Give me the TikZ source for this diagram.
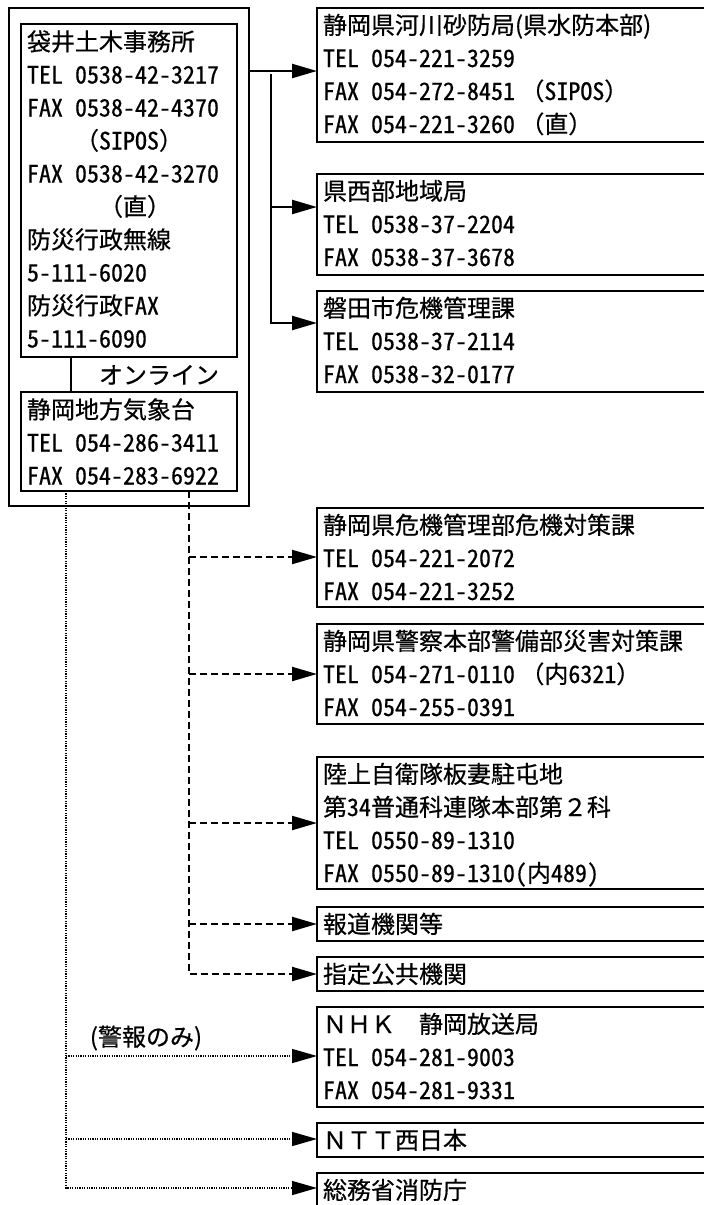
\documentclass[tikz,border=0pt]{standalone}
\usepackage{fontspec}
\newfontfamily\jp{Noto Sans CJK JP}[FakeBold=0.5]
\newfontfamily\jh{Noto Sans CJK JP}[RawFeature=+hwid,FakeBold=0.5]
\newcommand{\hw}[1]{{\jh #1}}
\usetikzlibrary{arrows.meta,calc}
\tikzset{
  box/.style={draw, line width=2.4pt, rectangle, anchor=north west, inner sep=0pt, outer sep=0pt},
  txt/.style={anchor=north west, inner sep=0pt, outer sep=0pt, align=left, font=\jp\fontsize{24pt}{33pt}\selectfont},
  lbl/.style={inner sep=0pt, outer sep=0pt, font=\jp\fontsize{24pt}{28pt}\selectfont},
  tip/.style={-{Triangle[length=25pt,width=14pt]}},
  solidc/.style={line width=2.3pt},
  dashc/.style={line width=2.1pt, dash pattern=on 7pt off 4pt},
  dotc/.style={line width=1.4pt, dash pattern=on 1.2pt off 1.2pt},
}
\begin{document}
\begin{tikzpicture}[x=1pt,y=-1pt]
\useasboundingbox (0,0) rectangle (704,1205);
\fill[white] (0,0) rectangle (704,1205);
\clip (0,0) rectangle (704,1205);

% left group
\node[box, minimum width=240pt, minimum height=498pt] (outer) at (9,8) {};
\node[box, minimum width=216pt, minimum height=333pt] (b1) at (21,24) {};
\node[box, minimum width=216pt, minimum height=99pt] (b2) at (21,392) {};
\node[txt] (t1) at (27,24) {\rule{0pt}{26.5pt}袋井土木事務所\\
\hw{TEL 0538-42-3217}\\
\hw{FAX 0538-42-4370}\\
　　（\hw{SIPOS}）\\
\hw{FAX 0538-42-3270}\\
　　　（直）\\
防災行政無線\\
\hw{5-111-6020}\\
防災行政\hw{FAX}\\
\hw{5-111-6090}};
\node[txt] (t2) at (27,392) {\rule{0pt}{26.5pt}静岡地方気象台\\
\hw{TEL 054-286-3411}\\
\hw{FAX 054-283-6922}};
\node[lbl] (lon) at (159,375) {オンライン};
\draw[solidc] ($(b1.south west)+(50,0)$) -- ($(b2.north west)+(50,0)$);

% right boxes
\node[box, minimum width=400pt, minimum height=134pt] (bA) at (317,8) {};
\node[box, minimum width=400pt, minimum height=101pt] (bB) at (317,174) {};
\node[box, minimum width=400pt, minimum height=101pt] (bC) at (317,291) {};
\node[box, minimum width=400pt, minimum height=99pt] (bD) at (317,508) {};
\node[box, minimum width=400pt, minimum height=100pt] (bE) at (317,624) {};
\node[box, minimum width=400pt, minimum height=132pt] (bF) at (317,757) {};
\node[box, minimum width=400pt, minimum height=34pt] (bG) at (317,907) {};
\node[box, minimum width=400pt, minimum height=34pt] (bH) at (317,957) {};
\node[box, minimum width=400pt, minimum height=100pt] (bI) at (317,1007) {};
\node[box, minimum width=400pt, minimum height=34pt] (bJ) at (317,1123) {};
\node[box, minimum width=400pt, minimum height=35pt] (bK) at (317,1173) {};

\node[txt] (tA) at (323,8) {\rule{0pt}{26pt}静岡県河川砂防局(県水防本部)\\
\hw{TEL 054-221-3259}\\
\hw{FAX 054-272-8451} （\hw{SIPOS}）\\
\hw{FAX 054-221-3260} （直）};
\node[txt] (tB) at (323,174) {\rule{0pt}{26pt}県西部地域局\\
\hw{TEL 0538-37-2204}\\
\hw{FAX 0538-37-3678}};
\node[txt] (tC) at (323,291) {\rule{0pt}{26pt}磐田市危機管理課\\
\hw{TEL 0538-37-2114}\\
\hw{FAX 0538-32-0177}};
\node[txt] (tD) at (323,508) {\rule{0pt}{26pt}静岡県危機管理部危機対策課\\
\hw{TEL 054-221-2072}\\
\hw{FAX 054-221-3252}};
\node[txt] (tE) at (323,624) {\rule{0pt}{26pt}静岡県警察本部警備部災害対策課\\
\hw{TEL 054-271-0110} （内\hw{6321}）\\
\hw{FAX 054-255-0391}};
\node[txt] (tF) at (323,757) {\rule{0pt}{26pt}陸上自衛隊板妻駐屯地\\
第\hw{34}普通科連隊本部第２科\\
\hw{TEL 0550-89-1310}\\
\hw{FAX 0550-89-1310(}内\hw{489)}};
\node[txt] (tG) at (323,907) {\rule{0pt}{26pt}報道機関等};
\node[txt] (tH) at (323,957) {\rule{0pt}{26pt}指定公共機関};
\node[txt] (tI) at (323,1007) {\rule{0pt}{26pt}ＮＨＫ　静岡放送局\\
\hw{TEL 054-281-9003}\\
\hw{FAX 054-281-9331}};
\node[txt] (tJ) at (323,1123) {\rule{0pt}{26pt}ＮＴＴ西日本};
\node[txt] (tK) at (323,1173) {\rule{0pt}{26pt}総務省消防庁};

% solid connectors
\coordinate (sA) at (249,71);
\coordinate (j1) at (271,74);
\coordinate (jB) at (271,207);
\coordinate (jC) at (271,323);
\draw[solidc, tip] (sA) -- (bA.west |- sA);
\draw[solidc] (j1) -- (jB);
\draw[solidc, tip] (jB) -- (bB.west |- jB);
\draw[solidc, tip] (jB) -- (jC) -- (bC.west |- jC);

% dashed connectors
\coordinate (d0) at (189,491);
\coordinate (dD) at (189,557);
\coordinate (dE) at (189,674);
\coordinate (dF) at (189,823);
\coordinate (dG) at (189,924);
\coordinate (dH) at (189,974);
\draw[dashc, tip] (d0) -- (dH) -- (bH.west |- dH);
\draw[dashc, tip] (dD) -- (bD.west |- dD);
\draw[dashc, tip] (dE) -- (bE.west |- dE);
\draw[dashc, tip] (dF) -- (bF.west |- dF);
\draw[dashc, tip] (dG) -- (bG.west |- dG);

% dotted connectors
\coordinate (o0) at (66,491);
\coordinate (oI) at (66,1056);
\coordinate (oJ) at (66,1139);
\coordinate (oK) at (66,1188);
\draw[dotc, tip] (o0) -- (oK) -- (bK.west |- oK);
\draw[dotc, tip] (oI) -- (bI.west |- oI);
\draw[dotc, tip] (oJ) -- (bJ.west |- oJ);
\node[lbl] (lw) at (146,1038) {(警報のみ)};
\end{tikzpicture}
\end{document}
